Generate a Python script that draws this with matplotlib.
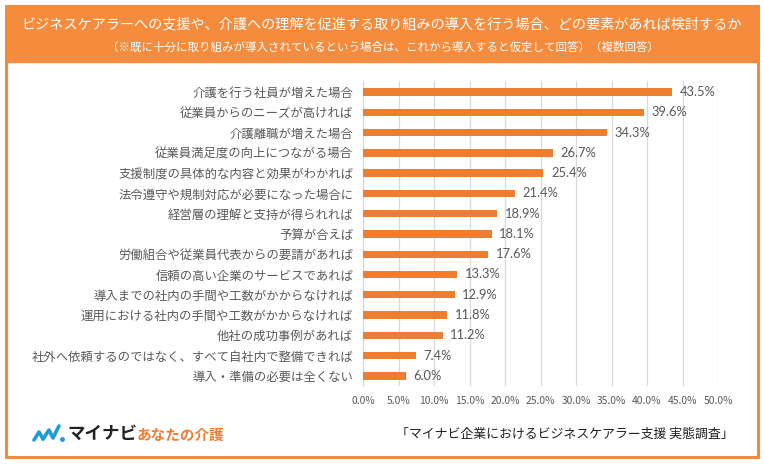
import matplotlib
matplotlib.use("Agg")
import matplotlib.pyplot as plt
from matplotlib.patches import Rectangle
from matplotlib.lines import Line2D

plt.rcParams['font.family'] = ['Noto Sans CJK JP', 'DejaVu Sans']

categories = [
    "介護を行う社員が増えた場合",
    "従業員からのニーズが高ければ",
    "介護離職が増えた場合",
    "従業員満足度の向上につながる場合",
    "支援制度の具体的な内容と効果がわかれば",
    "法令遵守や規制対応が必要になった場合に",
    "経営層の理解と支持が得られれば",
    "予算が合えば",
    "労働組合や従業員代表からの要請があれば",
    "信頼の高い企業のサービスであれば",
    "導入までの社内の手間や工数がかからなければ",
    "運用における社内の手間や工数がかからなければ",
    "他社の成功事例があれば",
    "社外へ依頼するのではなく、すべて自社内で整備できれば",
    "導入・準備の必要は全くない",
]
values = [43.5, 39.6, 34.3, 26.7, 25.4, 21.4, 18.9, 18.1, 17.6, 13.3, 12.9, 11.8, 11.2, 7.4, 6.0]
xticks = [0, 5, 10, 15, 20, 25, 30, 35, 40, 45, 50]
xtick_labels = [f"{t:.1f}%" for t in xticks]

title = "ビジネスケアラーへの支援や、介護への理解を促進する取り組みの導入を行う場合、どの要素があれば検討するか"
subtitle = "（※既に十分に取り組みが導入されているという場合は、これから導入すると仮定して回答）（複数回答）"
source = "「マイナビ企業におけるビジネスケアラー支援 実態調査」"

W, H = 764, 469
fig = plt.figure(figsize=(W / 100, H / 100), dpi=100)
fig.patch.set_facecolor("white")

ORANGE = "#F58B3D"
BAR = "#ED7D31"
GRAY = "#595959"

def fx(px):
    return px / W

def fy(py):
    return 1 - py / H

# outer frame and header
fig.patches.append(Rectangle((fx(6), fy(457)), fx(752), 451 / H, transform=fig.transFigure,
                             facecolor="white", edgecolor=ORANGE, linewidth=2.2, zorder=0))
fig.patches.append(Rectangle((fx(6), fy(62)), fx(752), 56 / H, transform=fig.transFigure,
                             facecolor=ORANGE, edgecolor=ORANGE, linewidth=1, zorder=1))
fig.text(fx(382), fy(24), title, color="white", fontsize=10.2, ha="center", va="center")
fig.text(fx(383), fy(47), subtitle, color="white", fontsize=8.3, ha="center", va="center")

# chart
ax = fig.add_axes([fx(363), fy(386), fx(718) - fx(363), (386 - 81.5) / H])
ax.set_zorder(5)
y = list(range(len(categories)))
ax.barh(y, values, height=0.36, color=BAR, zorder=3)
ax.set_ylim(len(categories) - 0.5, -0.52)
ax.set_xlim(0, 50)
ax.set_xticks(xticks)
ax.set_xticklabels(xtick_labels, fontsize=7.4, color=GRAY)
ax.set_yticks(y)
ax.set_yticklabels(categories, fontsize=8.9, color=GRAY)
ax.tick_params(axis="both", length=0)
ax.tick_params(axis="x", pad=7)
ax.tick_params(axis="y", pad=7)
ax.grid(axis="x", color="#D9D9D9", linewidth=0.9, zorder=0)
for s in ["top", "right", "bottom"]:
    ax.spines[s].set_visible(False)
ax.spines["left"].set_color("#D9D9D9")
ax.spines["left"].set_linewidth(0.9)
ax.set_facecolor("none")
for yi, v in zip(y, values):
    ax.text(v + 1.1, yi, f"{v:.1f}%", va="center", ha="left", fontsize=9.3, color=GRAY,
            family=["Lato", "DejaVu Sans"])

# logo
BLUE = "#1E9BE0"
fig.lines.append(Line2D([fx(34), fx(39), fx(43)], [fy(440), fy(432), fy(439)],
                        transform=fig.transFigure, color=BLUE, linewidth=2.6, solid_capstyle="round"))
fig.lines.append(Line2D([fx(43), fx(49), fx(53), fx(59)], [fy(439), fy(430), fy(438), fy(426)],
                        transform=fig.transFigure, color=BLUE, linewidth=2.6, solid_capstyle="round"))
fig.lines.append(Line2D([fx(62)], [fy(439)], transform=fig.transFigure, color=BLUE,
                        marker="o", markersize=2.5))
fig.text(fx(67), fy(434), "マイナビ", fontsize=12.6, fontweight="bold", color="#222222",
         ha="left", va="center")
fig.text(fx(137), fy(435), "あなたの介護", fontsize=10.5, fontweight="bold", color=BAR,
         ha="left", va="center")

fig.text(fx(734), fy(434), source, fontsize=9.3, color="#222222", ha="right", va="center")

fig.savefig("out.png", dpi=100, facecolor="white")
